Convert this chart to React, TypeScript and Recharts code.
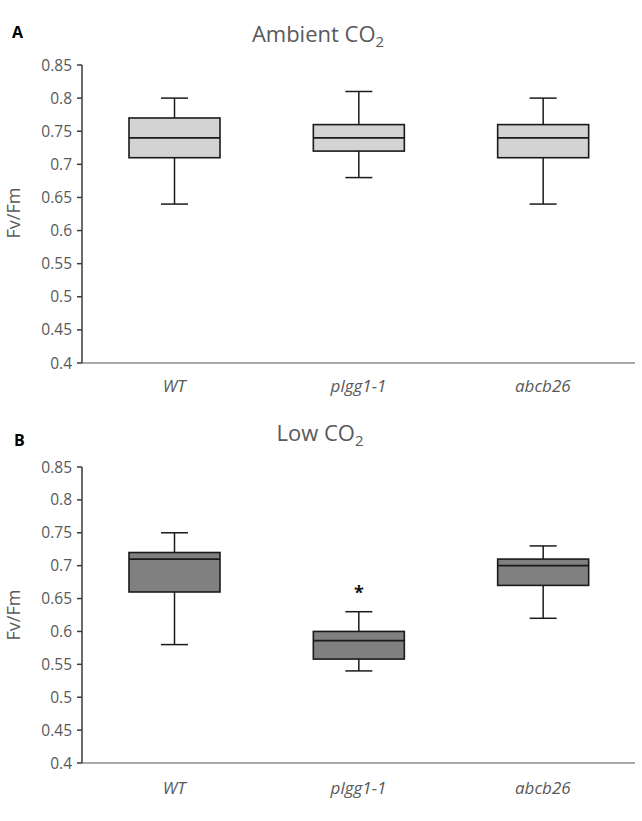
import React from 'react';
import { ComposedChart, Bar, XAxis, YAxis } from 'recharts';

const categories = ['WT', 'plgg1-1', 'abcb26'];

// panel A, ambient CO2
const ambientMin = [0.64, 0.68, 0.64];
const ambientQ1 = [0.71, 0.72, 0.71];
const ambientMedian = [0.74, 0.74, 0.74];
const ambientQ3 = [0.77, 0.76, 0.76];
const ambientMax = [0.8, 0.81, 0.8];

// panel B, low CO2
const lowMin = [0.58, 0.54, 0.62];
const lowQ1 = [0.66, 0.558, 0.67];
const lowMedian = [0.71, 0.586, 0.7];
const lowQ3 = [0.72, 0.6, 0.71];
const lowMax = [0.75, 0.63, 0.73];
const lowStar = [null, 0.665, null];

const yTicks = [0.4, 0.45, 0.5, 0.55, 0.6, 0.65, 0.7, 0.75, 0.8, 0.85];

const FONT = '"Open Sans", sans-serif';
const GREY = '#595959';

const build = (mn: number[], q1: number[], md: number[], q3: number[], mx: number[], star?: (number | null)[]) =>
  categories.map((name, i) => ({
    name,
    min: mn[i],
    q1: q1[i],
    median: md[i],
    q3: q3[i],
    max: mx[i],
    star: star ? star[i] : null,
    range: [mn[i], mx[i]],
  }));

const ambientData = build(ambientMin, ambientQ1, ambientMedian, ambientQ3, ambientMax);
const lowData = build(lowMin, lowQ1, lowMedian, lowQ3, lowMax, lowStar);

const BoxShape = (props: any) => {
  const { x, y, width, height, payload, fill } = props;
  const top = Math.min(y, y + height);
  const bottom = Math.max(y, y + height);
  const { min, q1, median, q3, max, star } = payload;
  const py = (v: number) => top + ((max - v) / (max - min)) * (bottom - top);
  const cx = x + width / 2;
  const cap = 13.5;
  const stroke = '#1a1a1a';
  return (
    <g>
      <line x1={cx} x2={cx} y1={py(max)} y2={py(q3)} stroke={stroke} strokeWidth={1.5} />
      <line x1={cx} x2={cx} y1={py(q1)} y2={py(min)} stroke={stroke} strokeWidth={1.5} />
      <line x1={cx - cap} x2={cx + cap} y1={py(max)} y2={py(max)} stroke={stroke} strokeWidth={1.5} />
      <line x1={cx - cap} x2={cx + cap} y1={py(min)} y2={py(min)} stroke={stroke} strokeWidth={1.5} />
      <rect x={x} y={py(q3)} width={width} height={py(q1) - py(q3)} fill={fill} stroke={stroke} strokeWidth={1.6} />
      <line x1={x} x2={x + width} y1={py(median)} y2={py(median)} stroke={stroke} strokeWidth={1.6} />
      {star != null && (
        <text x={cx} y={py(star) + 10} textAnchor="middle" fontSize={18} fontWeight="bold" fill="#111" fontFamily={FONT}>
          *
        </text>
      )}
    </g>
  );
};

const Panel = ({ data, fill, height, top, bottom, tickMargin }: any) => (
  <ComposedChart
    width={642}
    height={height}
    data={data}
    margin={{ top, right: 7, bottom: 0, left: 0 }}
    style={{ fontFamily: FONT }}
  >
    <XAxis
      dataKey="name"
      tickLine={false}
      tickSize={0}
      tickMargin={tickMargin}
      height={bottom}
      axisLine={{ stroke: '#8c8c8c', strokeWidth: 1.5 }}
      tick={{ fill: GREY, stroke: 'none', fontSize: 17, fontStyle: 'italic' }}
    />
    <YAxis
      width={82}
      domain={[0.4, 0.85]}
      ticks={yTicks}
      interval={0}
      tickSize={5}
      tickMargin={5}
      axisLine={{ stroke: '#3a3a3a', strokeWidth: 1.5 }}
      tickLine={{ stroke: '#3a3a3a', strokeWidth: 1.5 }}
      tick={{ fill: GREY, stroke: 'none', fontSize: 15.5 }}
    />
    <Bar dataKey="range" barSize={91} fill={fill} shape={<BoxShape />} isAnimationActive={false} />
  </ComposedChart>
);

const App: React.FC = () => {
  return (
    <div style={{ position: 'absolute', left: 0, top: 0, width: 642, height: 821, background: '#fff' }}>
      <div style={{ position: 'absolute', left: 0, top: 0 }}>
        <Panel data={ambientData} fill="#d3d3d3" height={400} top={65} bottom={37} tickMargin={17} />
      </div>
      <div style={{ position: 'absolute', left: 0, top: 400 }}>
        <Panel data={lowData} fill="#808080" height={421} top={67} bottom={58} tickMargin={19} />
      </div>
      <svg width={642} height={821} style={{ position: 'absolute', left: 0, top: 0, pointerEvents: 'none' }} fontFamily={FONT}>
        <text x={12} y={38} fontSize={16} fontWeight="bold" fill="#000">A</text>
        <text x={318} y={42} textAnchor="middle" fontSize={22} fill={GREY}>
          Ambient CO<tspan dy={5} fontSize={15}>2</tspan>
        </text>
        <text x={20} y={213} transform="rotate(-90 20 213)" textAnchor="middle" fontSize={18} fill={GREY}>Fv/Fm</text>
        <text x={14} y={446} fontSize={16} fontWeight="bold" fill="#000">B</text>
        <text x={320} y={441} textAnchor="middle" fontSize={22} fill={GREY}>
          Low CO<tspan dy={5} fontSize={15}>2</tspan>
        </text>
        <text x={20} y={615} transform="rotate(-90 20 615)" textAnchor="middle" fontSize={18} fill={GREY}>Fv/Fm</text>
      </svg>
    </div>
  );
};

export default App;
